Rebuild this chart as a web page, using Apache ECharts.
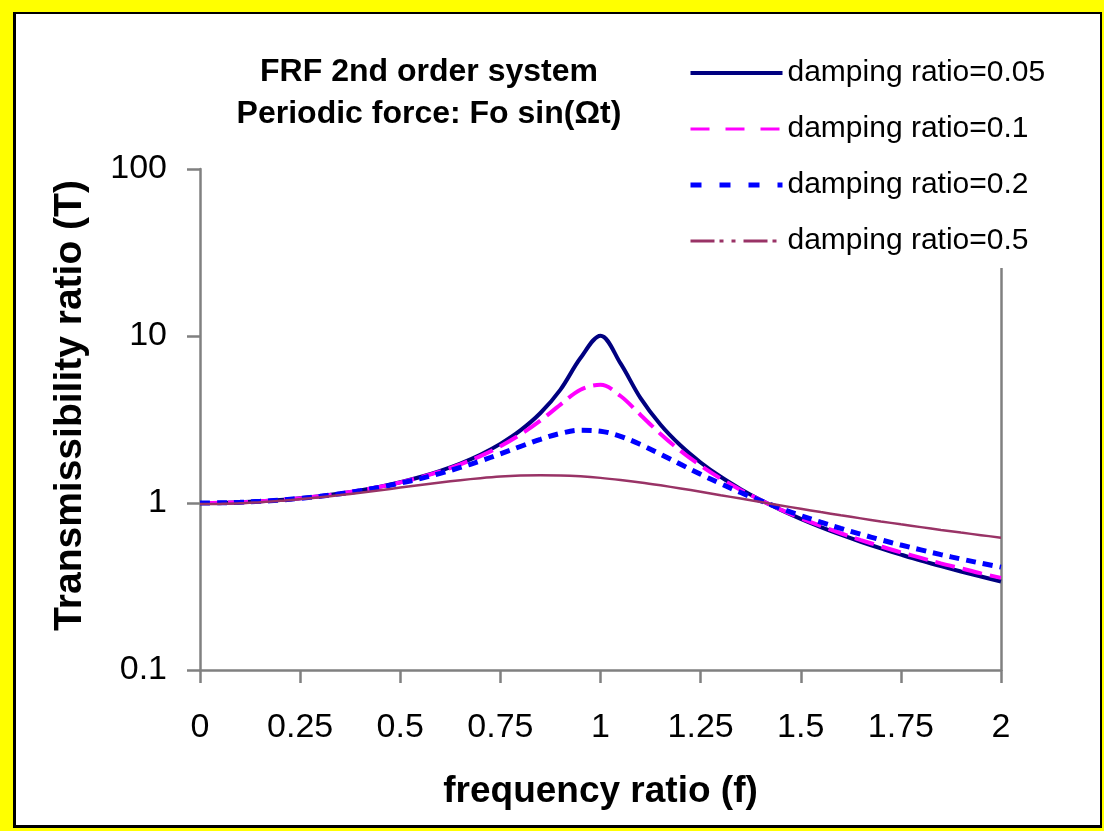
<!DOCTYPE html>
<html>
<head>
<meta charset="utf-8">
<script src="https://cdn.jsdelivr.net/npm/echarts@6/dist/echarts.min.js"></script>
<style>
  html, body { margin: 0; padding: 0; background: #ffff00; }
  #frame { position: absolute; left: 0; top: 0; width: 1104px; height: 831px; background: #ffff00; }
  #inner { position: absolute; left: 13px; top: 12px; width: 1089px; height: 816px; box-sizing: border-box; border: 3px solid #000; border-top-width: 2px; border-right-width: 2px; background: #fff; }
  #chart { position: absolute; left: 0; top: 0; width: 1104px; height: 831px; }
</style>
</head>
<body>
<div id="frame"><div id="inner"></div></div>
<div id="chart"></div>
<script>
// frequency ratio (f)
const freq = [0, 0.05, 0.1, 0.15, 0.2, 0.25, 0.3, 0.35, 0.4, 0.45, 0.5, 0.55, 0.6, 0.65, 0.7, 0.75, 0.8, 0.85, 0.9, 0.95,
              1, 1.05, 1.1, 1.15, 1.2, 1.25, 1.3, 1.35, 1.4, 1.45, 1.5, 1.55, 1.6, 1.65, 1.7, 1.75, 1.8, 1.85, 1.9, 1.95, 2];
// Transmissibility ratio (T)
const damp005 = [1.000, 1.003, 1.010, 1.023, 1.042, 1.067, 1.099, 1.139, 1.190, 1.253, 1.332, 1.431, 1.559, 1.724, 1.947, 2.259, 2.720, 3.458, 4.776, 7.379,
                 10.05, 6.852, 4.244, 2.940, 2.208, 1.749, 1.436, 1.211, 1.041, 0.909, 0.803, 0.717, 0.646, 0.586, 0.535, 0.491, 0.452, 0.419, 0.389, 0.363, 0.339];
const damp01  = [1.000, 1.003, 1.010, 1.023, 1.042, 1.067, 1.099, 1.139, 1.189, 1.251, 1.328, 1.425, 1.547, 1.704, 1.909, 2.186, 2.571, 3.117, 3.882, 4.766,
                 5.099, 4.373, 3.367, 2.590, 2.052, 1.675, 1.401, 1.197, 1.039, 0.913, 0.812, 0.729, 0.659, 0.600, 0.550, 0.506, 0.469, 0.435, 0.406, 0.379, 0.356];
const damp02  = [1.000, 1.003, 1.010, 1.023, 1.041, 1.066, 1.097, 1.136, 1.184, 1.243, 1.314, 1.400, 1.505, 1.632, 1.785, 1.968, 2.180, 2.407, 2.611, 2.727,
                 2.693, 2.509, 2.241, 1.959, 1.704, 1.486, 1.305, 1.155, 1.031, 0.928, 0.841, 0.767, 0.704, 0.650, 0.602, 0.560, 0.524, 0.491, 0.462, 0.436, 0.413];
const damp05  = [0.985, 0.988, 0.995, 1.012, 1.030, 1.055, 1.083, 1.115, 1.152, 1.193, 1.237, 1.282, 1.327, 1.370, 1.408, 1.440, 1.460, 1.468, 1.463, 1.444,
                 1.414, 1.374, 1.328, 1.276, 1.222, 1.168, 1.114, 1.063, 1.014, 0.967, 0.923, 0.882, 0.844, 0.809, 0.776, 0.745, 0.717, 0.690, 0.665, 0.642, 0.620];
const seriesNames = ['damping ratio=0.05', 'damping ratio=0.1', 'damping ratio=0.2', 'damping ratio=0.5'];
const xTickValues = [0, 0.25, 0.5, 0.75, 1, 1.25, 1.5, 1.75, 2];
const xTickLabels = ['0', '0.25', '0.5', '0.75', '1', '1.25', '1.5', '1.75', '2'];
const yTickValues = [0.1, 1, 10, 100];
const yTickLabels = ['0.1', '1', '10', '100'];

const FONT = "'Liberation Sans', Arial, Helvetica, sans-serif";
const AXIS_GRAY = '#808080';

function pairs(ys) { return freq.map((f, i) => [f, ys[i]]); }
function labelFor(values, labels) {
  return function (v) {
    for (let i = 0; i < values.length; i++) {
      if (Math.abs(values[i] - v) < 1e-6 * Math.max(1, Math.abs(v))) return labels[i];
    }
    return '';
  };
}

const chart = echarts.init(document.getElementById('chart'), null, { renderer: 'canvas' });
chart.setOption({
  animation: false,
  backgroundColor: 'transparent',
  textStyle: { fontFamily: FONT },
  title: {
    text: 'FRF 2nd order system\nPeriodic force: Fo sin(\u03A9t)',
    left: 424,
    top: 46,
    textAlign: 'center',
    textStyle: { fontFamily: FONT, fontSize: 32, fontWeight: 'bold', color: '#000', lineHeight: 42 }
  },
  legend: {
    orient: 'vertical',
    left: 683,
    top: 52,
    itemWidth: 92,
    itemHeight: 14,
    itemGap: 26,
    padding: [6, 20, 12, 5],
    backgroundColor: '#ffffff',
    selectedMode: false,
    itemStyle: { opacity: 0 },
    textStyle: { fontFamily: FONT, fontSize: 30, lineHeight: 30, color: '#000' },
    data: [
      { name: seriesNames[0], lineStyle: { type: 'solid', width: 4 } },
      { name: seriesNames[1], lineStyle: { type: [19, 16], width: 3 } },
      { name: seriesNames[2], lineStyle: { type: [11, 18], width: 5 } },
      { name: seriesNames[3], lineStyle: { type: [24, 5, 4, 8, 4, 8], width: 3 } }
    ]
  },
  grid: { left: 200, top: 169, right: 103, bottom: 161, containLabel: false },
  xAxis: {
    type: 'value',
    min: 0,
    max: 2,
    interval: 0.25,
    name: 'frequency ratio (f)',
    nameLocation: 'middle',
    nameGap: 103,
    nameTextStyle: { fontFamily: FONT, fontSize: 37, fontWeight: 'bold', color: '#000' },
    axisLine: { show: true, onZero: false, lineStyle: { color: AXIS_GRAY, width: 2.5 } },
    axisTick: { show: true, inside: false, length: 13, lineStyle: { color: AXIS_GRAY, width: 2.5 } },
    axisLabel: { margin: 41, fontFamily: FONT, fontSize: 34, color: '#000', formatter: labelFor(xTickValues, xTickLabels) },
    splitLine: { show: false }
  },
  yAxis: [
    {
      type: 'log',
      logBase: 10,
      min: 0.1,
      max: 100,
      name: 'Transmissibility ratio (T)',
      nameLocation: 'middle',
      nameGap: 110,
      nameRotate: 90,
      nameTextStyle: { fontFamily: FONT, fontSize: 39, fontWeight: 'bold', color: '#000', padding: [0, 0, 0, 28] },
      axisLine: { show: true, lineStyle: { color: AXIS_GRAY, width: 2.5 } },
      axisTick: { show: true, inside: false, length: 13, lineStyle: { color: AXIS_GRAY, width: 2.5 } },
      axisLabel: { margin: 33, fontFamily: FONT, fontSize: 34, color: '#000', formatter: labelFor(yTickValues, yTickLabels) },
      splitLine: { show: false },
      minorTick: { show: false }
    },
    {
      type: 'log',
      logBase: 10,
      min: 0.1,
      max: 100,
      position: 'right',
      axisLine: { show: true, lineStyle: { color: AXIS_GRAY, width: 2.5 } },
      axisTick: { show: false },
      axisLabel: { show: false },
      splitLine: { show: false }
    }
  ],
  series: [
    {
      name: seriesNames[0], type: 'line', yAxisIndex: 0, symbol: 'none', smooth: 0.35,
      data: pairs(damp005),
      lineStyle: { color: '#000080', width: 4, type: 'solid' },
      itemStyle: { color: '#000080' }
    },
    {
      name: seriesNames[1], type: 'line', yAxisIndex: 0, symbol: 'none', smooth: 0.35,
      data: pairs(damp01),
      lineStyle: { color: '#ff00ff', width: 4, type: [20, 8] },
      itemStyle: { color: '#ff00ff' }
    },
    {
      name: seriesNames[2], type: 'line', yAxisIndex: 0, symbol: 'none', smooth: 0.35,
      data: pairs(damp02),
      lineStyle: { color: '#0000ff', width: 5, type: [10, 7] },
      itemStyle: { color: '#0000ff' }
    },
    {
      name: seriesNames[3], type: 'line', yAxisIndex: 0, symbol: 'none', smooth: 0.35,
      data: pairs(damp05),
      lineStyle: { color: '#993366', width: 2.5, type: 'solid' },
      itemStyle: { color: '#993366' }
    }
  ]
});
</script>
</body>
</html>
